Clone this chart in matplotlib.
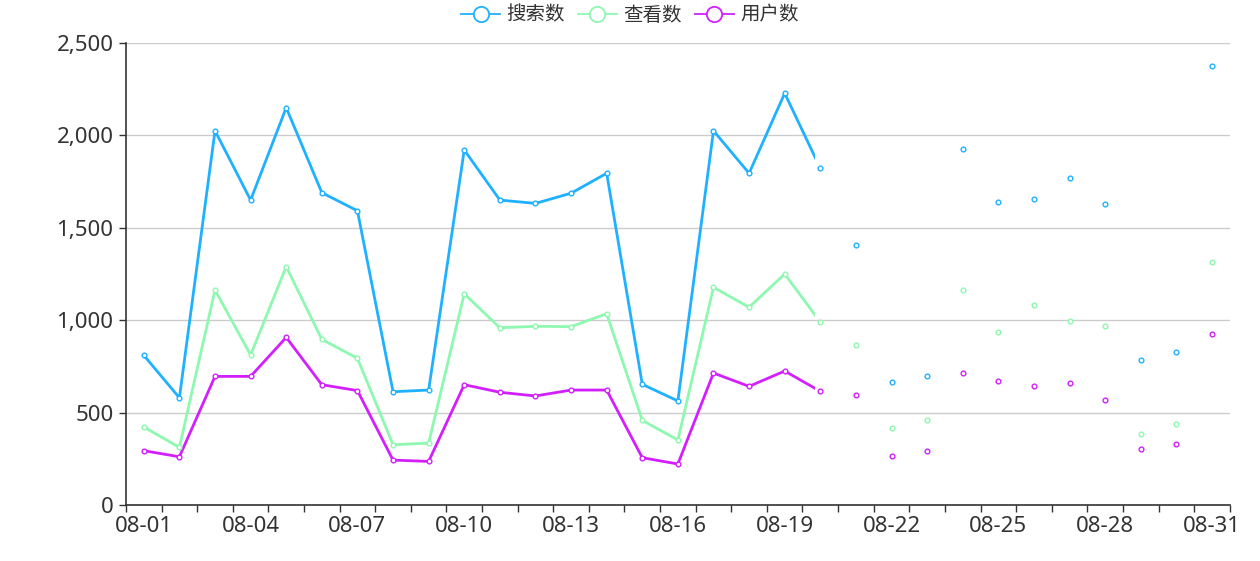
import matplotlib
matplotlib.use("Agg")
import matplotlib.pyplot as plt
from matplotlib.lines import Line2D
from matplotlib.patches import Rectangle
from matplotlib.ticker import FuncFormatter, FixedLocator

plt.rcParams['font.family'] = ['Noto Sans', 'Noto Sans CJK SC', 'DejaVu Sans']

days = ['08-%02d' % d for d in range(1, 32)]

search = [810, 580, 2025, 1650, 2150, 1690, 1592, 613, 622, 1921, 1650,
          1632, 1687, 1795, 653, 563, 2025, 1795, 2228, 1822, 1409,
          667, 696, 1926, 1641, 1654, 1768, 1630, 786, 828, 2375]
views = [422, 312, 1163, 812, 1290, 896, 794, 326, 335, 1143, 959,
         967, 965, 1035, 458, 352, 1178, 1070, 1250, 990, 864,
         415, 460, 1165, 938, 1080, 994, 967, 382, 438, 1315]
users = [294, 261, 696, 696, 907, 651, 619, 243, 236, 651, 610,
         590, 622, 622, 256, 222, 714, 642, 725, 615, 594,
         267, 290, 713, 669, 642, 662, 570, 303, 330, 924]

names = ['搜索数', '查看数', '用户数']
colors = ['#1fb1ff', '#8ef8b0', '#d31ffd']

# the lines are only drawn part way (animation snapshot), points everywhere
line_end = 18.85

fig = plt.figure(figsize=(12.6, 5.61), dpi=100)
ax = fig.add_axes([0.1, 0.0998, 0.876, 0.8236])

x = list(range(len(days)))
for vals, col in zip([search, views, users], colors):
    ln, = ax.plot(x, vals, color=col, lw=2.0, solid_joinstyle='round', zorder=3)
    clip = Rectangle((-0.5, -100), line_end + 0.5, 3000, transform=ax.transData)
    ln.set_clip_path(clip)
    ax.plot(x, vals, ls='none', marker='o', ms=3.4, mew=1.0,
            mfc='white', mec=col, zorder=4)

ax.set_xlim(-0.5, 30.5)
ax.set_ylim(0, 2500)

ax.set_xticks(range(0, 31, 3))
ax.set_xticklabels(days[::3])
ax.xaxis.set_minor_locator(FixedLocator([i - 0.5 for i in range(32)]))
ax.tick_params(axis='x', which='major', length=0, pad=8, labelsize=16, colors='#333333')
ax.tick_params(axis='x', which='minor', length=5, width=1, color='#333333')

ax.set_yticks(range(0, 2501, 500))
ax.yaxis.set_major_formatter(FuncFormatter(lambda v, p: '{:,.0f}'.format(v)))
ax.tick_params(axis='y', length=5, width=1, pad=4, labelsize=16, colors='#333333')

ax.grid(axis='y', color='#cccccc', lw=1)
ax.set_axisbelow(True)
for s in ['top', 'right']:
    ax.spines[s].set_visible(False)
for s in ['left', 'bottom']:
    ax.spines[s].set_color('#333333')
    ax.spines[s].set_linewidth(1.2)

handles = [Line2D([], [], color=c, lw=1.3, marker='o', ms=11, mfc='white', mec=c, mew=1.3)
           for c in colors]
fig.legend(handles, names, loc='center', bbox_to_anchor=(0.5, 0.973), ncol=3,
           frameon=False, handlelength=2.0, handletextpad=0.35,
           columnspacing=0.65, labelcolor='#333333',
           prop={'family': ['Noto Sans CJK SC', 'DejaVu Sans'], 'size': 14})

fig.savefig('out.png', dpi=100)
